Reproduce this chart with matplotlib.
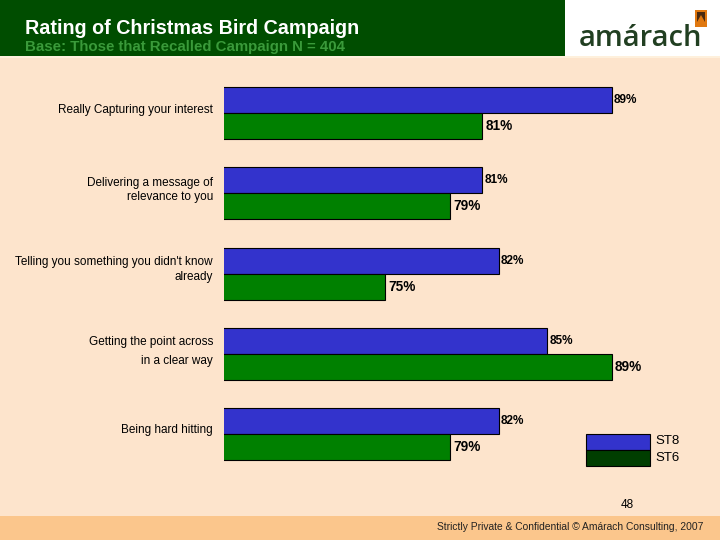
import matplotlib
matplotlib.use("Agg")
import matplotlib.pyplot as plt
from matplotlib.patches import Rectangle, Polygon

categories = [
    "Really Capturing your interest",
    "Delivering a message of\nrelevance to you",
    "Telling you something you didn't know\nalready",
    "Getting the point across\nin a clear way",
    "Being hard hitting",
]
st8 = [89, 81, 82, 85, 82]
st6 = [81, 79, 75, 89, 79]
series_names = ["ST8", "ST6"]

W, H = 720, 540
BG = "#FDE4CC"
BLUE = "#3333CC"
GREEN = "#008000"
DKGREEN = "#004D00"
LEG_GREEN = "#003E00"

fig = plt.figure(figsize=(7.2, 5.4), dpi=100)
fig.patch.set_facecolor(BG)

def fx(px):
    return px / W

def fy(py):
    return 1 - py / H

# header band
fig.add_artist(Rectangle((0, fy(56)), fx(565), 56 / H, transform=fig.transFigure,
                         facecolor=DKGREEN, edgecolor="none", zorder=0))
fig.add_artist(Rectangle((fx(565), fy(56)), fx(155), 56 / H, transform=fig.transFigure,
                         facecolor="white", edgecolor="none", zorder=0))
fig.add_artist(Rectangle((0, fy(58)), 1, 2 / H, transform=fig.transFigure,
                         facecolor="#FEF0DC", edgecolor="none", zorder=0))
# footer band
fig.add_artist(Rectangle((0, 0), 1, 24 / H, transform=fig.transFigure,
                         facecolor="#FBC68C", edgecolor="none", zorder=0))

fig.text(fx(25), fy(28), "Rating of Christmas Bird Campaign", color="white",
         fontsize=14.2, fontweight="bold", family="Liberation Sans", va="center")
fig.text(fx(25), fy(47), "Base: Those that Recalled Campaign N = 404", color="#3A9A3A",
         fontsize=10.8, fontweight="bold", family="Liberation Sans", va="center")

# logo
fig.text(fx(579), fy(38), "amárach", color="#213F21", fontsize=21,
         family="Open Sans", fontweight="semibold", va="center", ha="left")
fig.add_artist(Rectangle((fx(695), fy(27)), fx(12), 17 / H, transform=fig.transFigure,
                         facecolor="#E07810", edgecolor="none"))
fig.add_artist(Rectangle((fx(697), fy(22)), fx(8), 10 / H, transform=fig.transFigure,
                         facecolor="#4A2A10", edgecolor="none"))
fig.add_artist(Polygon([(fx(697), fy(22)), (fx(705), fy(22)), (fx(701), fy(15))],
                       closed=True, transform=fig.transFigure,
                       facecolor="#E07810", edgecolor="none"))

# footer texts
fig.text(fx(703), fy(527), "Strictly Private & Confidential © Amárach Consulting, 2007",
         fontsize=7.4, family="Liberation Sans", ha="right", va="center", color="#222222")
fig.text(fx(627), fy(505), "48", fontsize=8.5, family="Liberation Sans",
         ha="center", va="center")

# main axes
ax_left, ax_right = 224, 660
ax_top, ax_bot = 74, 474
ax = fig.add_axes([fx(ax_left), fy(ax_bot), fx(ax_right - ax_left), (ax_bot - ax_top) / H])
ax.set_facecolor("none")
for s in ax.spines.values():
    s.set_visible(False)

n = len(categories)
bar_h = 0.324
ys = [-i for i in range(n)]
ax.barh([y + bar_h / 2 for y in ys], st8, left=0, height=bar_h, color=BLUE,
        edgecolor="black", linewidth=0.8)
ax.barh([y - bar_h / 2 for y in ys], st6, left=0, height=bar_h, color=GREEN,
        edgecolor="black", linewidth=0.8)
ax.set_xlim(65, 92)
ax.set_ylim(-4.498, 0.486)

for y, v in zip(ys, st8):
    ax.text(v + 0.15, y + bar_h / 2, f"{v}%", fontsize=8.5, fontweight="bold",
            family="Liberation Sans", va="center", ha="left")
for y, v in zip(ys, st6):
    ax.text(v + 0.2, y - bar_h / 2, f"{v}%", fontsize=9.8, fontweight="bold",
            family="Liberation Sans", va="center", ha="left")

ax.set_xticks([])
ax.set_yticks([])

# category labels
label_offsets = [0.037, 0.037, 0.05, 0.03, 0.05]
for y, cat, off in zip(ys, categories, label_offsets):
    ls = 1.75 if cat.startswith("Getting") else 1.25
    ax.text(-0.025, y + off, cat, transform=ax.get_yaxis_transform(), ha="right",
            va="center", fontsize=8.5, family="Liberation Sans", linespacing=ls)

# legend
lx, lw = 586, 64
fig.add_artist(Rectangle((fx(lx), fy(450)), fx(lw), 16 / H, transform=fig.transFigure,
                         facecolor=BLUE, edgecolor="black", linewidth=0.8))
fig.add_artist(Rectangle((fx(lx), fy(466)), fx(lw), 16 / H, transform=fig.transFigure,
                         facecolor=LEG_GREEN, edgecolor="black", linewidth=0.8))
fig.text(fx(655), fy(441), series_names[0], fontsize=9.5, family="Liberation Sans", va="center")
fig.text(fx(655), fy(458), series_names[1], fontsize=9.5, family="Liberation Sans", va="center")

fig.savefig("out.png", dpi=100, facecolor=fig.get_facecolor())
